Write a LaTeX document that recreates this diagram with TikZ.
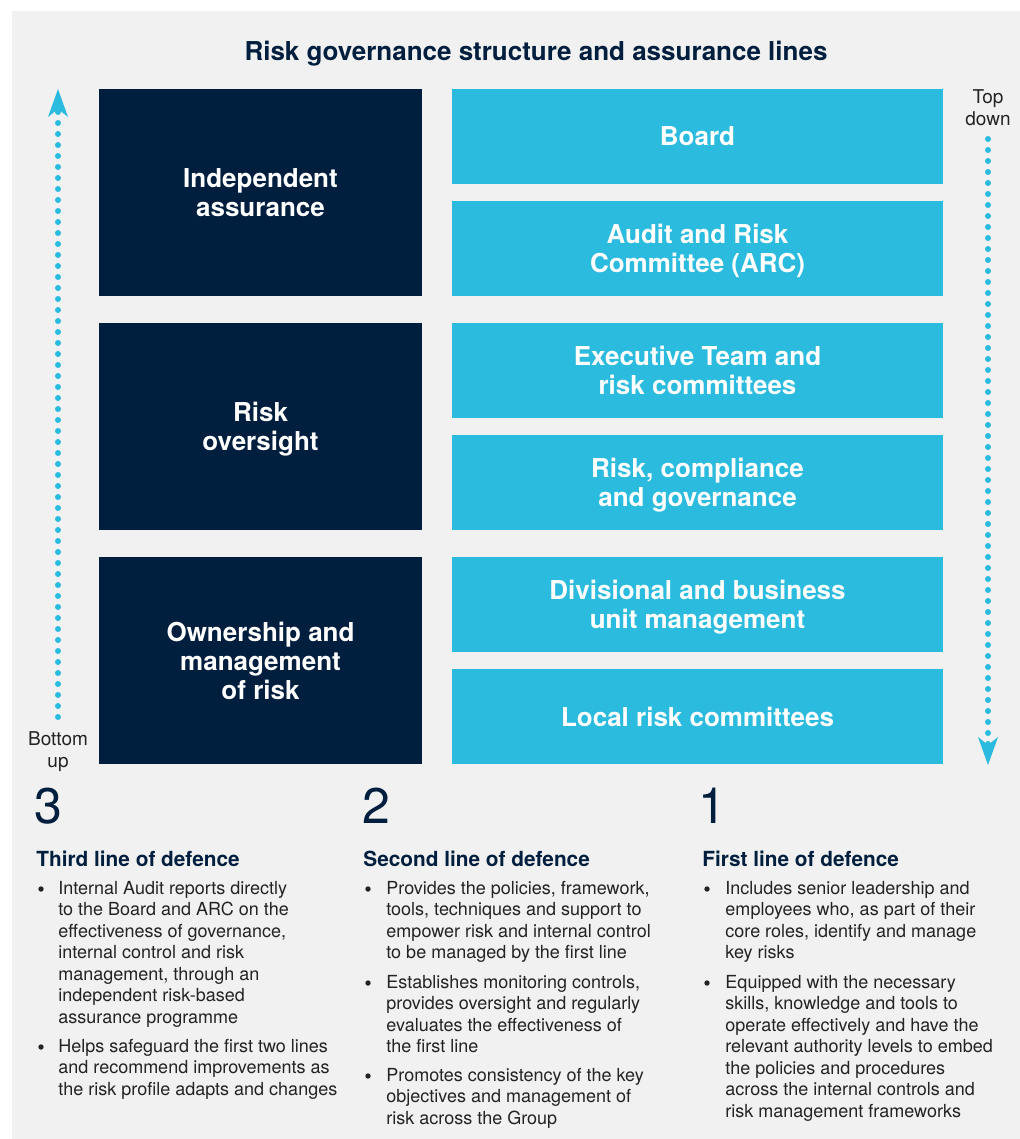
\documentclass[tikz,border=0pt]{standalone}
\usepackage{fontspec}
\setmainfont{TeX Gyre Heros}
\usetikzlibrary{arrows.meta,positioning}

\definecolor{navy}{RGB}{0,30,62}
\definecolor{cyanbox}{RGB}{43,187,222}
\definecolor{panelgrey}{RGB}{241,241,241}
\definecolor{bodytext}{RGB}{35,35,35}

\tikzset{
    darkbox/.style={fill=navy, text=white, minimum width=161.5pt, minimum height=103.5pt,
        inner sep=0pt, align=center, text depth=0pt, font=\bfseries\fontsize{13}{14.5}\selectfont},
    lightbox/.style={fill=cyanbox, text=white, minimum width=245.5pt, minimum height=47.5pt,
        inner sep=0pt, align=center, text depth=0pt, font=\bfseries\fontsize{13}{14.5}\selectfont},
    dotline/.style={cyanbox, line width=3pt, line cap=round, dash pattern=on 0pt off 5.5pt,
        -{Stealth[length=14pt, width=10pt, inset=4pt, line width=0pt]}},
    sidelabel/.style={text=bodytext, align=center, inner sep=0pt,
        font=\fontsize{9.5}{11}\selectfont},
    bignum/.style={text=navy, anchor=base west, inner sep=0pt, font=\fontsize{25}{25}\selectfont},
    linehead/.style={text=navy, anchor=base west, inner sep=0pt, font=\bfseries\fontsize{10.4}{12}\selectfont},
    % anchor is the baseline of the last line
    bodyline/.style={text=bodytext, anchor=base west, inner sep=0pt, align=left,
        font=\fontsize{9}{10.75}\selectfont},
    bulletmark/.style={circle, fill=bodytext, inner sep=0pt, minimum size=2.7pt}
}

\begin{document}
\begin{tikzpicture}[x=0.5pt, y=-0.5pt]
    \useasboundingbox (0,0) rectangle (1020,1139);
    \fill[panelgrey] (12,11) rectangle (1020,1139);

    % Title
    \node[text=navy, anchor=base, inner sep=0pt, font=\bfseries\fontsize{13}{15}\selectfont]
        (title) at (536,61) {Risk governance structure and assurance lines};

    % Left column: assurance lines
    \node[darkbox] (indep) at (260.5,192.5) {Independent\\assurance};
    \node[darkbox] (oversight) at (260.5,426.5) {Risk\\oversight};
    \node[darkbox] (ownership) at (260.5,660.5) {Ownership and\\management\\of risk};

    % Right column: governance structure
    \node[lightbox] (board) at (697.5,136.5) {Board};
    \node[lightbox] (arc) at (697.5,248.5) {Audit and Risk\\Committee (ARC)};
    \node[lightbox] (exec) at (697.5,370.5) {Executive Team and\\risk committees};
    \node[lightbox] (rcg) at (697.5,482.5) {Risk, compliance\\and governance};
    \node[lightbox] (divisional) at (697.5,604.5) {Divisional and business\\unit management};
    \node[lightbox] (local) at (697.5,716.5) {Local risk committees};

    % Bottom up / top down arrows
    \node[sidelabel] (bottomup) at (58,752) {Bottom\\up};
    \node[sidelabel] (topdown) at (988,108) {Top\\down};
    \coordinate (bu-start) at (58,717);
    \coordinate (bu-end) at (58,89);
    \coordinate (td-start) at (988,139);
    \coordinate (td-end) at (988,765);
    \draw[dotline] (bu-start) -- (bu-end);
    \draw[dotline] (td-start) -- (td-end);

    % Third line of defence
    \node[bignum] (num3) at (34,823) {3};
    \node[linehead] (third) at (36,866) {Third line of defence};
    \node[bulletmark] (b31) at (41,889) {};
    \node[bodyline] (t31) at (58,1023) {Internal Audit reports directly\\to the Board and ARC on the\\effectiveness of governance,\\internal control and risk\\management, through an\\independent risk-based\\assurance programme};
    \node[bulletmark] (b32) at (41,1047) {};
    \node[bodyline] (t32) at (58,1095) {Helps safeguard the first two lines\\and recommend improvements as\\the risk profile adapts and changes};

    % Second line of defence
    \node[bignum] (num2) at (362,823) {2};
    \node[linehead] (second) at (363,866) {Second line of defence};
    \node[bulletmark] (b21) at (368,889) {};
    \node[bodyline] (t21) at (386,958.5) {Provides the policies, framework,\\tools, techniques and support to\\empower risk and internal control\\to be managed by the first line};
    \node[bulletmark] (b22) at (368,983) {};
    \node[bodyline] (t22) at (386,1052.5) {Establishes monitoring controls,\\provides oversight and regularly\\evaluates the effectiveness of\\the first line};
    \node[bulletmark] (b23) at (368,1076) {};
    \node[bodyline] (t23) at (386,1124) {Promotes consistency of the key\\objectives and management of\\risk across the Group};

    % First line of defence
    \node[bignum] (num1) at (698,823) {1};
    \node[linehead] (first) at (702,866) {First line of defence};
    \node[bulletmark] (b11) at (707,889) {};
    \node[bodyline] (t11) at (725,958.5) {Includes senior leadership and\\employees who, as part of their\\core roles, identify and manage\\key risks};
    \node[bulletmark] (b12) at (707,983) {};
    \node[bodyline] (t12) at (725,1117) {Equipped with the necessary\\skills, knowledge and tools to\\operate effectively and have the\\relevant authority levels to embed\\the policies and procedures\\across the internal controls and\\risk management frameworks};
\end{tikzpicture}
\end{document}
